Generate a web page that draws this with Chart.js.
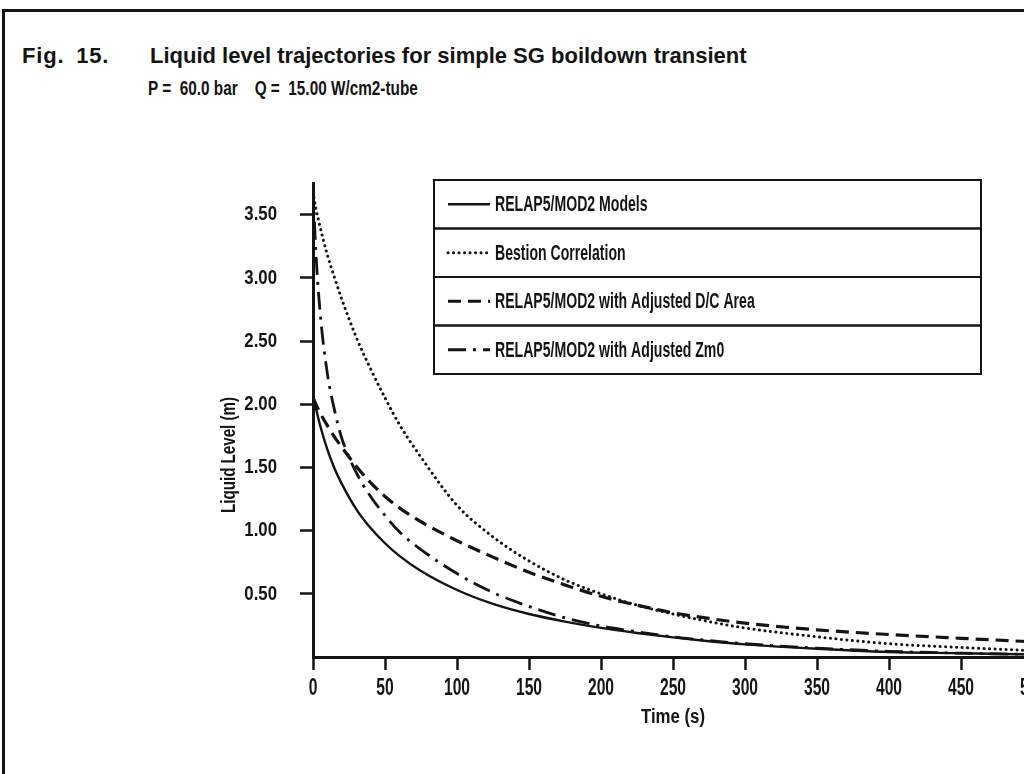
<!DOCTYPE html>
<html>
<head>
<meta charset="utf-8">
<script src="https://cdn.jsdelivr.net/npm/chart.js@4.4.0/dist/chart.umd.min.js"></script>
<style>
  html, body { margin: 0; padding: 0; background: #fff; overflow: hidden; width: 1024px; height: 774px; }
  #frame { position: absolute; left: 2px; top: 9px; width: 1200px; height: 900px;
           border-top: 3px solid #161616; border-left: 3px solid #161616; }
  .cap { position: absolute; white-space: nowrap; color: #141414; }
  #figno { left: 22px; top: 43px; font: bold 22px "Liberation Sans", Arial, sans-serif; letter-spacing: 0.8px; word-spacing: 5px; }
  #figtitle { left: 150px; top: 43px; font: bold 22px "Liberation Sans", Arial, sans-serif; }
  #cond { left: 148px; top: 76px; font: bold 21px "Liberation Sans", Arial, sans-serif;
          transform: scaleX(0.73); transform-origin: 0 0; white-space: pre; }
  #plot { position: absolute; left: 0; top: 0; }
</style>
</head>
<body>
<div id="frame"></div>
<div class="cap" id="figno">Fig. 15.</div>
<div class="cap" id="figtitle">Liquid level trajectories for simple SG boildown transient</div>
<div class="cap" id="cond">P =  60.0 bar    Q =  15.00 W/cm2-tube</div>
<canvas id="plot" width="1100" height="774"></canvas>
<script>
// Time samples (s) shared by all four runs
const timeS = [0, 2, 5, 10, 15, 20, 30, 40, 50, 60, 75, 100, 125, 150, 175, 200, 225, 250, 275, 300, 350, 400, 450, 500];

// Collapsed liquid level (m) for each run
const relapModels = [2.08, 1.97, 1.83, 1.64, 1.49, 1.37, 1.17, 1.02, 0.90, 0.80, 0.68, 0.53, 0.42, 0.34, 0.28, 0.23, 0.19, 0.155, 0.125, 0.10, 0.065, 0.04, 0.03, 0.02];
const bestion     = [3.68, 3.55, 3.40, 3.18, 3.00, 2.83, 2.53, 2.28, 2.05, 1.84, 1.58, 1.20, 0.95, 0.76, 0.61, 0.50, 0.41, 0.34, 0.28, 0.23, 0.16, 0.105, 0.075, 0.05];
const adjustedDC  = [2.05, 2.00, 1.93, 1.83, 1.74, 1.66, 1.51, 1.38, 1.27, 1.18, 1.07, 0.92, 0.79, 0.67, 0.57, 0.48, 0.41, 0.35, 0.305, 0.268, 0.215, 0.178, 0.148, 0.12];
const adjustedZm0 = [3.72, 3.20, 2.72, 2.24, 1.95, 1.73, 1.46, 1.27, 1.12, 0.99, 0.85, 0.66, 0.51, 0.40, 0.31, 0.245, 0.20, 0.16, 0.13, 0.105, 0.07, 0.045, 0.03, 0.02];

const seriesNames = [
  'RELAP5/MOD2 Models',
  'Bestion Correlation',
  'RELAP5/MOD2 with Adjusted D/C Area',
  'RELAP5/MOD2 with Adjusted Zm0'
];

// Axis ticks
const xTickValues = [0, 50, 100, 150, 200, 250, 300, 350, 400, 450, 500];
const yTickValues = [0.5, 1.0, 1.5, 2.0, 2.5, 3.0, 3.5];
const xAxisTitle = 'Time (s)';
const yAxisTitle = 'Liquid Level (m)';

const INK = '#141414';

function pairUp(values) {
  return timeS.map((t, i) => ({ x: t, y: values[i] }));
}

// Draws text squeezed horizontally, like a plotter's narrow lettering
function narrowText(ctx, text, x, y, size, sx, align, rotation) {
  ctx.save();
  ctx.font = 'bold ' + size + 'px "Liberation Sans", Arial, sans-serif';
  ctx.fillStyle = INK;
  ctx.textBaseline = 'middle';
  ctx.textAlign = align;
  ctx.translate(x, y);
  if (rotation) ctx.rotate(rotation);
  ctx.scale(sx, 1);
  ctx.fillText(text, 0, 0);
  ctx.restore();
}

// Tick labels and axis titles
const axisLabels = {
  id: 'axisLabels',
  afterDraw(chart) {
    const ctx = chart.ctx;
    const xs = chart.scales.x, ys = chart.scales.y;
    xs.ticks.forEach(t => {
      narrowText(ctx, String(t.value), xs.getPixelForValue(t.value), xs.top + 32, 23, 0.68, 'center');
    });
    ys.ticks.forEach(t => {
      narrowText(ctx, t.value.toFixed(2), ys.right - 36, ys.getPixelForValue(t.value), 21, 0.8, 'right');
    });
    narrowText(ctx, xAxisTitle, (xs.left + xs.right) / 2, 717, 21, 0.8, 'center');
    narrowText(ctx, yAxisTitle, 229, 455, 21, 0.72, 'center', -Math.PI / 2);
  }
};

// Boxed legend, one framed row per run
const boxLegend = {
  id: 'boxLegend',
  afterDraw(chart) {
    const ctx = chart.ctx;
    const left = 434, right = 981, top = 180, rowH = 48.5;
    chart.data.datasets.forEach((ds, i) => {
      const y0 = top + i * rowH;
      ctx.save();
      ctx.strokeStyle = INK;
      ctx.lineWidth = 2;
      ctx.strokeRect(left, y0, right - left, rowH);
      const cy = y0 + rowH / 2;
      ctx.beginPath();
      ctx.setLineDash(ds.borderDash || []);
      ctx.lineWidth = ds.borderWidth;
      ctx.lineCap = ds.borderCapStyle || 'butt';
      ctx.moveTo(448, cy);
      ctx.lineTo(490, cy);
      ctx.stroke();
      ctx.restore();
      narrowText(ctx, ds.label, 495, cy + 1, 22, 0.64, 'left');
    });
  }
};

const common = {
  fill: false,
  pointRadius: 0,
  cubicInterpolationMode: 'monotone',
  borderColor: INK
};

new Chart(document.getElementById('plot'), {
  type: 'line',
  data: {
    datasets: [
      { ...common, label: seriesNames[0], data: pairUp(relapModels), borderWidth: 2.4 },
      { ...common, label: seriesNames[1], data: pairUp(bestion), borderWidth: 3, borderDash: [0.1, 5.4], borderCapStyle: 'round' },
      { ...common, label: seriesNames[2], data: pairUp(adjustedDC), borderWidth: 3.2, borderDash: [13, 7] },
      { ...common, label: seriesNames[3], data: pairUp(adjustedZm0), borderWidth: 2.8, borderDash: [18, 7, 3, 7] }
    ]
  },
  options: {
    responsive: false,
    animation: false,
    devicePixelRatio: 1,
    layout: { padding: { left: 0, top: 183, right: 67, bottom: 0 } },
    plugins: { legend: { display: false }, tooltip: { enabled: false } },
    scales: {
      x: {
        type: 'linear',
        min: 0,
        max: 500,
        afterFit(s) { s.height = 117; },
        afterBuildTicks(s) { s.ticks = xTickValues.map(v => ({ value: v })); },
        ticks: { display: false },
        grid: { drawOnChartArea: false, drawTicks: true, tickLength: 13, tickWidth: 2.5, tickColor: INK },
        border: { display: true, color: INK, width: 3 }
      },
      y: {
        type: 'linear',
        min: 0,
        max: 3.75,
        afterFit(s) { s.width = 313; },
        afterBuildTicks(s) { s.ticks = yTickValues.map(v => ({ value: v })); },
        ticks: { display: false },
        grid: { drawOnChartArea: false, drawTicks: true, tickLength: 13, tickWidth: 2.5, tickColor: INK },
        border: { display: true, color: INK, width: 3 }
      }
    }
  },
  plugins: [axisLabels, boxLegend]
});
</script>
</body>
</html>
